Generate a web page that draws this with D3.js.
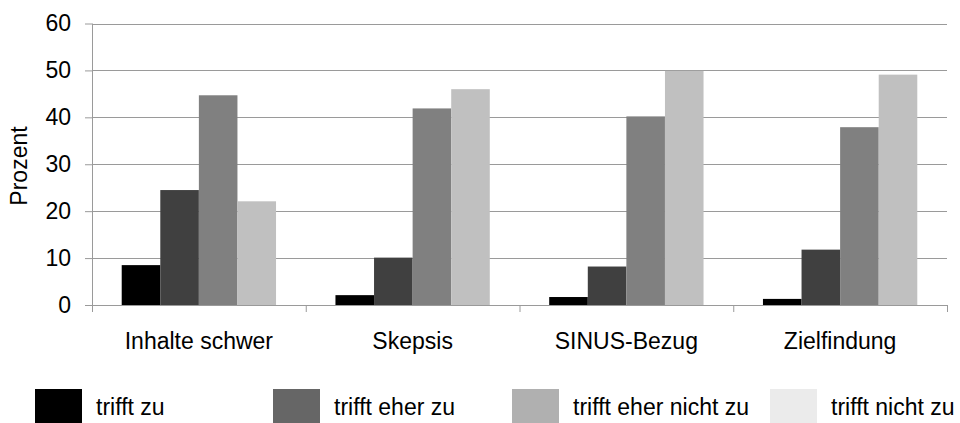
<html>
<head>
    <script src="https://d3js.org/d3.v7.min.js"></script>
    <style>
        body { margin: 0; background: #fff; }
        text { font-family: "Liberation Sans", Arial, sans-serif; fill: #000; }
    </style>
</head>
<body>
    <svg id="chart" width="960" height="423"></svg>
    <script>
        // data
        var categories = ['Inhalte schwer', 'Skepsis', 'SINUS-Bezug', 'Zielfindung']
        var series = ['trifft zu', 'trifft eher zu', 'trifft eher nicht zu', 'trifft nicht zu']
        var trifftZu = [8.5, 2.1, 1.7, 1.3]
        var trifftEherZu = [24.5, 10.1, 8.2, 11.8]
        var trifftEherNichtZu = [44.7, 41.9, 40.2, 37.9]
        var trifftNichtZu = [22.1, 46.0, 49.9, 49.1]
        var yTicks = [0, 10, 20, 30, 40, 50, 60]

        var values = [trifftZu, trifftEherZu, trifftEherNichtZu, trifftNichtZu]
        var barColors = ['#000000', '#404040', '#808080', '#c0c0c0']
        var legendColors = ['#000000', '#666666', '#b0b0b0', '#ebebeb']

        var svg = d3.select('#chart')
        var plotLeft = 92, plotRight = 947, plotTop = 23.5, plotBottom = 305
        var fontSize = '23px'

        var x = d3.scaleBand().domain(categories).range([plotLeft, plotRight])
        var xInner = d3.scaleBand().domain(series)
            .range([0, x.bandwidth()]).paddingOuter(0.77)
        var y = d3.scaleLinear().domain([0, 60]).range([plotBottom, plotTop])

        // gridlines
        svg.append('g')
            .selectAll('line')
            .data(yTicks.slice(1))
            .enter()
            .append('line')
            .attr('x1', plotLeft).attr('x2', plotRight)
            .attr('y1', function(d) { return Math.round(y(d)) + 0.5 })
            .attr('y2', function(d) { return Math.round(y(d)) + 0.5 })
            .attr('stroke', '#9a9a9a')
            .attr('stroke-width', 1)

        // bars
        var groups = svg.append('g')
            .selectAll('g')
            .data(categories)
            .enter()
            .append('g')
            .attr('transform', function(d) { return 'translate(' + x(d) + ',0)' })
        groups.selectAll('rect')
            .data(function(c, ci) {
                return series.map(function(s, si) {
                    return { s: s, v: values[si][ci], color: barColors[si] }
                })
            })
            .enter()
            .append('rect')
            .attr('x', function(d) { return xInner(d.s) })
            .attr('width', xInner.bandwidth())
            .attr('y', function(d) { return y(d.v) })
            .attr('height', function(d) { return plotBottom - y(d.v) })
            .attr('fill', function(d) { return d.color })

        // y axis
        var yAxis = d3.axisLeft(y).tickValues(yTicks).tickSize(7).tickPadding(14)
        var yg = svg.append('g')
            .attr('transform', 'translate(' + plotLeft + ',0)')
            .call(yAxis)
        yg.selectAll('line, path').attr('stroke', '#9a9a9a')
        yg.select('.domain').attr('d', 'M0.5,' + plotTop + 'V' + plotBottom)
        yg.selectAll('text').style('font-size', fontSize).attr('fill', '#000')
            .attr('font-family', null)

        // x axis
        var xg = svg.append('g').attr('transform', 'translate(0,' + plotBottom + ')')
        xg.append('line')
            .attr('x1', plotLeft).attr('x2', plotRight)
            .attr('y1', 0.5).attr('y2', 0.5)
            .attr('stroke', '#9a9a9a')
        xg.selectAll('line.tick')
            .data(d3.range(categories.length + 1))
            .enter()
            .append('line')
            .classed('tick', true)
            .attr('x1', function(i) { return plotLeft + i * x.step() + 0.5 })
            .attr('x2', function(i) { return plotLeft + i * x.step() + 0.5 })
            .attr('y1', 0).attr('y2', 7)
            .attr('stroke', '#9a9a9a')
        xg.selectAll('text')
            .data(categories)
            .enter()
            .append('text')
            .attr('x', function(d) { return x(d) + x.bandwidth() / 2 })
            .attr('y', 44)
            .attr('text-anchor', 'middle')
            .style('font-size', fontSize)
            .text(function(d) { return d })

        // y title
        svg.append('text')
            .attr('transform', 'translate(27,166) rotate(-90)')
            .attr('text-anchor', 'middle')
            .style('font-size', fontSize)
            .text('Prozent')

        // legend
        var legendX = [35, 273, 512, 770]
        var legend = svg.append('g')
            .selectAll('g')
            .data(series)
            .enter()
            .append('g')
            .attr('transform', function(d, i) { return 'translate(' + legendX[i] + ',389)' })
        legend.append('rect')
            .attr('width', 47).attr('height', 34)
            .attr('fill', function(d, i) { return legendColors[i] })
        legend.append('text')
            .attr('x', 61).attr('y', 26)
            .style('font-size', fontSize)
            .text(function(d) { return d })
    </script>
</body>
</html>
